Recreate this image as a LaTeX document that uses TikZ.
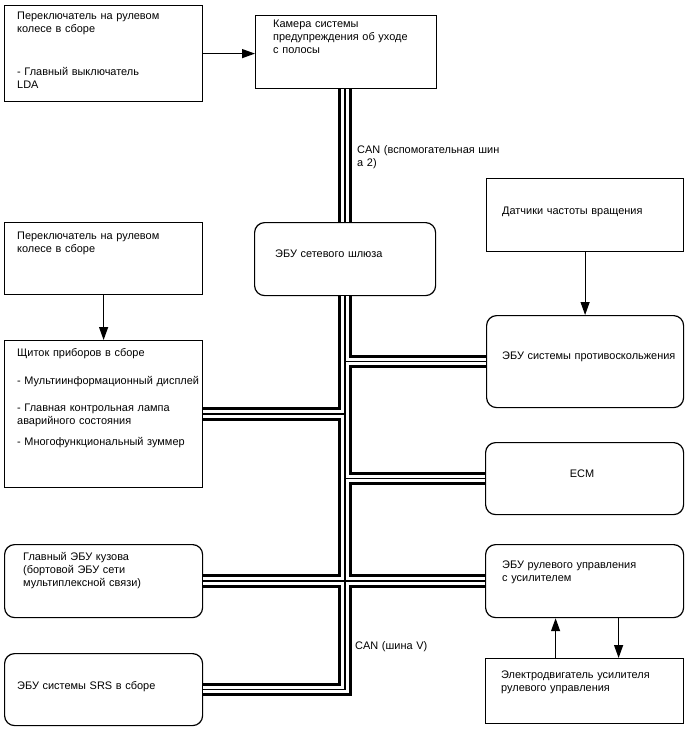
\documentclass[tikz,border=0pt]{standalone}
\usepackage{fontspec}
\setmainfont{Liberation Sans}
\usetikzlibrary{arrows.meta}
\begin{document}
\begin{tikzpicture}[x=1pt,y=-1pt,
  box/.style={draw, line width=1.2pt, inner sep=0pt, anchor=north west},
  rbox/.style={box, rounded corners=10pt},
  txt/.style={anchor=base west, inner sep=0pt, align=left, text width=200pt,
    font=\fontsize{10.95}{13}\selectfont},
  arr/.style={line width=1.2pt, -{Triangle[length=13pt,width=9pt]}},
  bus/.style={line width=1.3pt, black, line join=miter,
    preaction={draw, black, line width=13.5pt, line join=miter},
    preaction={draw, white, line width=7.5pt, line join=miter}}
]
\useasboundingbox (0,0) rectangle (688,755);
% boxes
\node[box, minimum width=198pt, minimum height=96pt] (A) at (4,5) {};
\node[box, minimum width=181pt, minimum height=73pt] (cam) at (255,15) {};
\node[box, minimum width=197pt, minimum height=73pt] (C) at (486,178) {};
\node[box, minimum width=198pt, minimum height=72pt] (D) at (4,222) {};
\node[rbox, minimum width=181pt, minimum height=73pt] (gw) at (254,222) {};
\node[rbox, minimum width=197pt, minimum height=92pt] (F) at (486,315) {};
\node[box, minimum width=198pt, minimum height=147pt] (G) at (4,340) {};
\node[rbox, minimum width=198pt, minimum height=72pt] (H) at (485,442) {};
\node[rbox, minimum width=198pt, minimum height=73pt] (I) at (4,544) {};
\node[rbox, minimum width=198pt, minimum height=73pt] (J) at (485,544) {};
\node[rbox, minimum width=198pt, minimum height=72pt] (K) at (4,653) {};
\node[box, minimum width=198pt, minimum height=65pt] (L) at (485,658) {};
% texts
\node[txt] (tA) at (17,19) {Переключатель на рулевом\\колесе в сборе\\[30pt]- Главный выключатель\\LDA};
\node[txt] (tcam) at (273,27) {Камера системы\\предупреждения об уходе\\с полосы};
\node[txt] (tC) at (502,214) {Датчики частоты вращения};
\node[txt] (tD) at (17,239) {Переключатель на рулевом\\колесе в сборе};
\node[txt] (tgw) at (275,257) {ЭБУ сетевого шлюза};
\node[txt] (tF) at (502,359) {ЭБУ системы противоскольжения};
\node[txt] (tG) at (17,356) {Щиток приборов в сборе\\[15pt]- Мультиинформационный дисплей\\[14pt]- Главная контрольная лампа\\аварийного состояния\\[8pt]- Многофункциональный зуммер};
\node[anchor=base, inner sep=0pt, font=\fontsize{10.95}{13}\selectfont] (tH) at (582,477) {ECM};
\node[txt] (tI) at (23,560) {Главный ЭБУ кузова\\(бортовой ЭБУ сети\\мультиплексной связи)};
\node[txt] (tJ) at (502,568) {ЭБУ рулевого управления\\с усилителем};
\node[txt] (tK) at (17,689) {ЭБУ системы SRS в сборе};
\node[txt] (tL) at (501,678) {Электродвигатель усилителя\\рулевого управления};
\node[txt] (can1) at (357,153) {CAN (вспомогательная шин\\а 2)};
\node[txt] (can2) at (355,649) {CAN (шина V)};
% bus
\coordinate (bx) at (345,0);
\draw[bus] (cam.south -| bx) -- (gw.north -| bx)
  (gw.south -| bx) -- (bx |- K.east) -- (K.east)
  (bx |- F.west) -- (F.west)
  (bx |- G.east) -- (G.east)
  (bx |- H.west) -- (H.west)
  (I.east) -- (J.west);
% arrows
\draw[arr] (A.east) -- (A.east -| cam.west);
\draw[arr] (D.south) -- (G.north);
\draw[arr] (C.south) -- (F.north);
\draw[arr] ([xshift=-29pt]L.north) -- ([xshift=-29pt]J.south);
\draw[arr] ([xshift=34pt]J.south) -- ([xshift=34pt]L.north);
\end{tikzpicture}
\end{document}
